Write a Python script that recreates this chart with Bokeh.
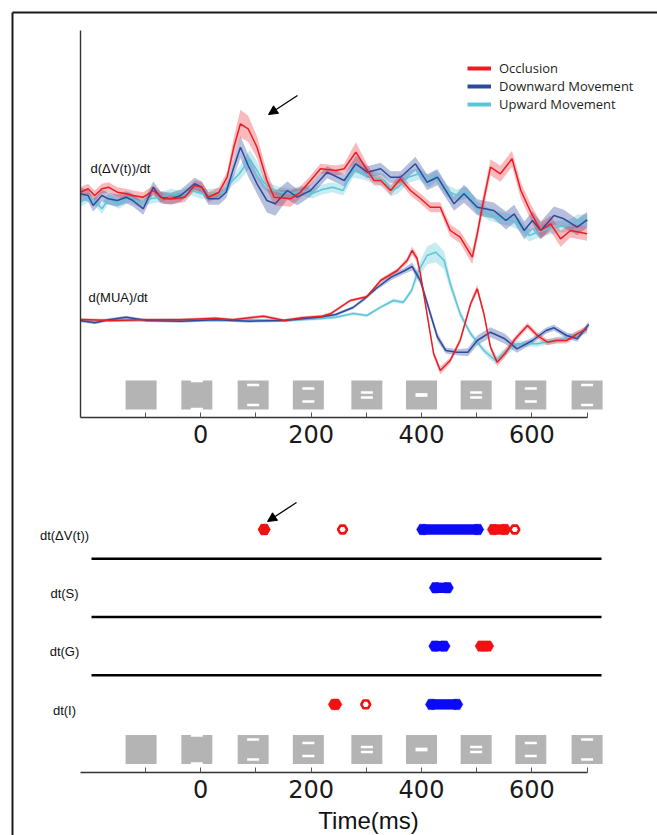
from bokeh.plotting import figure
from bokeh.models import (Range1d, LinearAxis, FixedTicker, Legend, LegendItem,
                          Arrow, NormalHead)
from bokeh.core.properties import value
from bokeh.embed import file_html
from bokeh.resources import INLINE

# ---------------- data ----------------
time_ticks = [-100, 0, 100, 200, 300, 400, 500, 600, 700]
unlabeled_ticks = [-100, 100, 300, 500, 700]
condition_names = ["Occlusion", "Downward Movement", "Upward Movement"]

# d(dV(t))/dt, a.u. (0 = pre-stimulus baseline)
dv_occ_t = [-218,-204,-192,-179,-167,-151,-135,-123,-104,-86,-67,-48,-29,-11,2,14,33,48,60,72,86,102,120,133,163,180,199,217,245,260,281,302,314,326,344,362,380,398,416,434,452,470,492,501,510,525,543,564,580,598,616,634,652,670,700]
dv_occ = [3.3,6.7,0,6.7,8.3,3.3,1.7,0,-1.7,5,-3.3,-3.3,-1.7,10,8.3,-1.7,3.3,18.3,48.3,71.7,66.7,48.3,15,-1.7,-3.3,3,15,26.7,25,26.7,43.3,25,15,15,5,16.7,5,-3,-11.7,-11.7,-35,-41.7,-61.7,-38.3,-11.7,28.3,21.7,36.7,5,-16.7,-35,-28.3,-43.3,-35,-38.3]
dv_occ_sem = [5,5,5,5,5,5,5,5,5,5,5,5,5,5,5,5,5, 6,10,14,13,11,9,8,8,6,5, 5,5,5,10,6,5,5,5,5,5, 5,5,5,6,6,7,7,8,8,8, 8,8,8,8,8,8,7,7]

dv_down_t = [-218,-204,-195,-179,-167,-151,-135,-123,-104,-86,-73,-54,-36,-11,2,14,33,46,60,72,86,102,120,135,157,175,199,229,260,281,302,326,344,362,389,410,429,459,477,501,531,553,568,586,601,616,640,658,682,700]
dv_down = [1.7,0,-10,0,-3.3,-5,-1.7,-5,-13.3,8.3,-1.7,-3.3,0,11.7,8.3,-3.3,-3.3,3.3,28.3,48.3,30,11.7,-5,-8.3,5,-1.7,5,23.3,15,31.7,23.3,26.7,18.3,18.3,31.7,13.3,18.3,-8.3,1.7,-11.7,-15,-25,-18.3,-35,-25,-35,-20,-23.3,-31.7,-24.3]
dv_down_sem = [6]*18 + [9,11,11,10,12,12,9,8,6] + [6,6,8,6,6,6,6,7,8,8,7,9,8,8] + [9,9,9,9,9,9,9,8,8]

dv_up_t = [-218,-204,-192,-179,-167,-148,-129,-110,-92,-73,-54,-36,-17,2,21,39,58,70,89,102,114,127,145,164,183,202,220,239,258,276,295,314,333,345,358,376,395,414,426,445,464,482,501,520,538,557,576,595,613,632,651,670,682,701]
dv_up = [-6.7,-1.7,-5,-13.3,-3.3,-8.3,-1.7,-6.7,-3.3,-1.7,1.7,0,5,1.7,1.7,3.3,15,21.7,36.7,25,13.3,6.7,3.3,1.7,5,2,6,8.3,5,25,21.7,18.3,15,5,8.3,18.3,21.7,14,20,5,0,3,-12,-18.3,-21.7,-24,-28.3,-40,-36,-33,-31,-30,-25,-25]
dv_up_sem = [5]*17 + [7,9,9,7] + [5]*8 + [7] + [6]*24

# d(MUA)/dt, a.u.
mua_occ_t = [-218,-160,-98,-36,27,58,114,152,183,220,235,271,301,326,356,374,383,392,398,410,422,434,452,470,489,501,513,525,537,551,570,592,610,628,645,663,682,700]
mua_occ = [1,0,0.7,0.7,2.3,0.7,4.3,0,2.7,4.3,6.7,20,23.7,40,50,60,70,62,46.7,6.7,-33.3,-50,-40,-20,16.7,31.7,6.7,-26.7,-41.7,-33.3,-18.3,-5,-15,-21.7,-20,-20,-13.3,-8.3]
mua_occ_sem = [1.5]*13 + [2,2,3,4,4,3,3,3,4,3,3,3,4,3,3,4,4,3,3,3,3,3,3,3,3]

mua_down_t = [-218,-192,-167,-135,-98,-36,27,89,152,214,245,276,295,320,345,370,383,398,416,429,444,464,484,501,525,551,573,601,626,640,663,682,703]
mua_down = [0,-2.3,0.7,3.3,0,-0.7,0.7,-0.7,0,3.3,6,13,21,33,43.3,50,54,40,6.7,-16.7,-30,-31.7,-31.7,-20,-11.7,-18.3,-28.3,-20,-10,-7.3,-15,-18.3,-4]
mua_down_sem = [1.5]*12 + [2,2,3,3,4,4,4,4,3,3,4,5,5,5,4,3,3,3,3,3,3]

mua_up_t = [-218,-160,-98,-36,27,89,152,214,245,276,301,326,349,367,382,392,410,426,441,452,470,489,513,534,555,573,610,658,700]
mua_up = [-0.7,0,0,0.7,0,0.7,0,1.7,3.3,7,5,13.3,20,18.3,30,46.7,65,68.3,60,36.7,6.7,-13.3,-30,-40,-30,-23.3,-23.3,-18.3,-10]
mua_up_sem = [1.5]*12 + [2,2,3,6,9,10,9,6,4,3,3,4,4,3,3,3,3]

# significance rows (bottom panel)
sig_rows = ["dt(\u0394V(t))", "dt(S)", "dt(G)", "dt(I)"]
occl_sig_row = [0, 0, 2, 3]
occl_sig_start = [115, 530, 508, 242]
occl_sig_end = [115, 551, 520, 245]
move_sig_row = [0, 1, 2, 3]
move_sig_start = [402, 425, 424, 418]
move_sig_end = [502, 447, 441, 464]
occl_open_row = [0, 0, 3]
occl_open_t = [257, 569, 299]

# stimulus frames: time of frame, offset of the two white bars from the frame centre
stim_t = [-108, -7, 95, 195, 301, 400, 499, 598, 700]
stim_bar_offset = [None, 14, 10, 6.5, 2.5, 0, 2.5, 6.5, 10]

# ---------------- layout helpers ----------------
W, H = 657, 835
X0_PX, PX_PER_MS = 200.2, 0.552      # pixel of t = 0 and scale
AXIS_PX = 417                         # pixel row of the upper time axis
ROW0_PX, ROW_STEP = 529, 58.3         # significance rows


def t_at(px):
    return (px - X0_PX) / PX_PER_MS


def y_at(py):
    return AXIS_PX - py


DV_BASE = y_at(195)
MUA_BASE = y_at(320)

RED = "#ec1c24"
DBLUE = "#2e4a9e"
CYAN = "#5cc5d8"
colors = [RED, DBLUE, CYAN]

p = figure(width=W, height=H, x_range=Range1d(t_at(0), t_at(W)),
           y_range=Range1d(y_at(H), y_at(0)), x_axis_type=None, y_axis_type=None,
           toolbar_location=None, output_backend="svg", min_border=0,
           outline_line_color=None, background_fill_color="white")
p.extra_y_ranges = {"rows": Range1d(start=(H - ROW0_PX) / ROW_STEP, end=-ROW0_PX / ROW_STEP)}

# page frame (top and left)
p.segment(x0=[t_at(12), t_at(12)], y0=[y_at(12), y_at(12)],
          x1=[t_at(W), t_at(12)], y1=[y_at(12), y_at(H)],
          line_color="#1a1a1a", line_width=2)

# ---------------- top panel ----------------
series = [
    (dv_up_t, dv_up, dv_up_sem, CYAN, DV_BASE, 0.35),
    (dv_down_t, dv_down, dv_down_sem, DBLUE, DV_BASE, 0.35),
    (dv_occ_t, dv_occ, dv_occ_sem, RED, DV_BASE, 0.3),
    (mua_up_t, mua_up, mua_up_sem, CYAN, MUA_BASE, 0.35),
    (mua_down_t, mua_down, mua_down_sem, DBLUE, MUA_BASE, 0.35),
    (mua_occ_t, mua_occ, mua_occ_sem, RED, MUA_BASE, 0.3),
]
for t, v, s, c, base, a in series:
    assert len(t) == len(v) == len(s), (len(t), len(v), len(s))
    p.varea(x=t, y1=[base + a_ - b_ for a_, b_ in zip(v, s)],
            y2=[base + a_ + b_ for a_, b_ in zip(v, s)], fill_color=c, fill_alpha=a)
for t, v, s, c, base, a in series:
    p.line(x=t, y=[base + a_ for a_ in v], line_color=c, line_width=1.5)

lbl_font = value("Liberation Sans")
p.text(x=[t_at(90)], y=[y_at(168)], text=["d(\u0394V(t))/dt"], text_font=lbl_font,
       text_font_size="13px", text_baseline="middle", text_align="left", text_color="#111")
p.text(x=[t_at(88)], y=[y_at(297)], text=["d(MUA)/dt"], text_font=lbl_font,
       text_font_size="13px", text_baseline="middle", text_align="left", text_color="#111")

# legend (swatch renderers carry no visible data)
nan = float("nan")
dummies = [p.line(x=[nan, nan], y=[nan, nan], line_color=c, line_width=4) for c in colors]
legend = Legend(items=[LegendItem(label=n, renderers=[d]) for n, d in zip(condition_names, dummies)],
                location=(467, H - 59 - 3 * 18), orientation="vertical", padding=0, margin=0,
                spacing=0, glyph_width=24, glyph_height=18, label_height=18, label_standoff=8,
                label_text_font="Open Sans", label_text_font_size="13px",
                label_text_color="#231f20", border_line_color=None, background_fill_alpha=0)
p.add_layout(legend)

p.add_layout(Arrow(end=NormalHead(size=9, fill_color="black", line_color="black", line_width=1),
                   x_start=t_at(297), y_start=y_at(95), x_end=t_at(268), y_end=y_at(114),
                   line_color="black", line_width=1.3))

# ---------------- bottom panel ----------------
p.segment(x0=[t_at(91)] * 3, x1=[t_at(601)] * 3, y0=[0.5, 1.5, 2.5], y1=[0.5, 1.5, 2.5],
          y_range_name="rows", line_color="black", line_width=2.5)
p.text(x=[t_at(64)] * 4, y=[i + 0.1 for i in range(len(sig_rows))], text=sig_rows,
       y_range_name="rows", text_font=lbl_font, text_font_size="13px",
       text_align="center", text_baseline="middle", text_color="#111")

SIG_RED = "#f21010"
SIG_BLUE = "#0a0af5"
for rows, st, en, c in [(move_sig_row, move_sig_start, move_sig_end, SIG_BLUE),
                        (occl_sig_row, occl_sig_start, occl_sig_end, SIG_RED)]:
    p.segment(x0=st, x1=en, y0=rows, y1=rows, y_range_name="rows",
              line_color=c, line_width=10.4)
    p.scatter(x=st + en, y=rows + rows, marker="hex", size=12, y_range_name="rows",
              fill_color=c, line_color=c, line_width=0.5)
p.scatter(x=occl_open_t, y=occl_open_row, marker="hex", size=9, y_range_name="rows",
          fill_color="white", line_color=SIG_RED, line_width=2.6)

p.add_layout(Arrow(end=NormalHead(size=9, fill_color="black", line_color="black", line_width=1),
                   x_start=t_at(296), y_start=y_at(502), x_end=t_at(267), y_end=y_at(521),
                   line_color="black", line_width=1.3))

# stimulus frames (both panels)
STIM_W, STIM_H = 31 / PX_PER_MS, 29
BAR_W, BAR_H = 12 / PX_PER_MS, 2.5
for yc in [y_at(394.5), y_at(749)]:
    p.rect(x=stim_t, y=[yc] * len(stim_t), width=STIM_W, height=STIM_H,
           fill_color="#b4b4b4", line_color=None)
    bx, by, bh = [], [], []
    for t, d in zip(stim_t, stim_bar_offset):
        if d is None:
            continue
        if d == 0:
            bx.append(t); by.append(yc); bh.append(BAR_H + 1.2)
        else:
            bx += [t, t]; by += [yc + d, yc - d]; bh += [BAR_H, BAR_H]
    p.rect(x=bx, y=by, width=BAR_W, height=bh, fill_color="white", line_color=None)

p.text(x=[t_at(368)], y=[y_at(820)], text=["Time(ms)"], text_font=lbl_font,
       text_font_size="24px", text_align="center", text_baseline="middle", text_color="#111")

# axes
def time_axis(loc):
    ax = LinearAxis(fixed_location=loc, bounds=(t_at(79.6), 700),
                    ticker=FixedTicker(ticks=time_ticks, minor_ticks=[]),
                    major_label_overrides={k: "" for k in unlabeled_ticks})
    ax.axis_line_color = "#333"
    ax.axis_line_width = 1.4
    ax.major_tick_in = 5
    ax.major_tick_out = 0
    ax.major_tick_line_color = "#555"
    ax.minor_tick_line_color = None
    ax.major_label_standoff = 7
    ax.major_label_text_font = "DejaVu Sans"
    ax.major_label_text_font_size = "24px"
    ax.major_label_text_color = "#1a1a1a"
    return ax

p.add_layout(time_axis(0), "below")
p.add_layout(time_axis(y_at(772)), "below")

ya = LinearAxis(fixed_location=t_at(79.6), bounds=(0, y_at(30)),
                ticker=FixedTicker(ticks=[], minor_ticks=[]))
ya.axis_line_color = "#333"
ya.axis_line_width = 1.4
ya.major_tick_line_color = None
ya.minor_tick_line_color = None
p.add_layout(ya, "left")

open("out.html", "w").write(file_html(p, INLINE))
